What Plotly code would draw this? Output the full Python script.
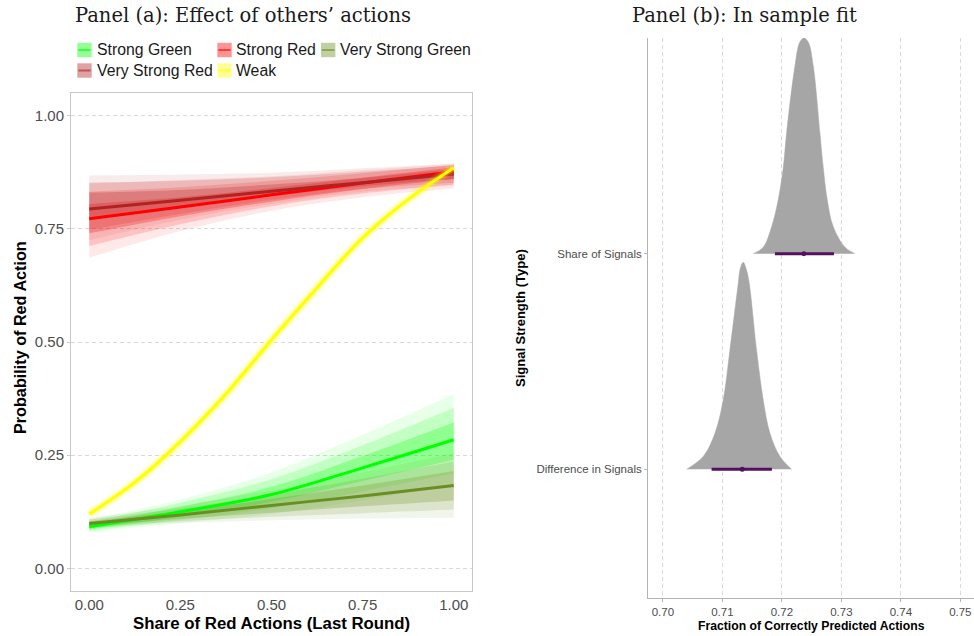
import plotly.graph_objects as go

W, H = 974, 636

# ---------------- Panel (a) data ----------------
share_x = [0.0, 0.25, 0.5, 0.75, 1.0]

strong_green_mean = [0.092, 0.125, 0.163, 0.222, 0.284]
strong_green_outer_lo = [0.080, 0.100, 0.120, 0.150, 0.185]
strong_green_outer_hi = [0.108, 0.152, 0.212, 0.295, 0.385]
strong_green_mid_lo = [0.083, 0.107, 0.133, 0.170, 0.210]
strong_green_mid_hi = [0.103, 0.145, 0.197, 0.272, 0.355]
strong_green_inner_lo = [0.086, 0.114, 0.147, 0.193, 0.240]
strong_green_inner_hi = [0.098, 0.136, 0.180, 0.248, 0.322]

strong_red_mean = [0.772, 0.798, 0.825, 0.851, 0.876]
strong_red_outer_lo = [0.686, 0.745, 0.790, 0.820, 0.839]
strong_red_outer_hi = [0.850, 0.858, 0.866, 0.880, 0.894]
strong_red_mid_lo = [0.712, 0.760, 0.800, 0.828, 0.848]
strong_red_mid_hi = [0.832, 0.842, 0.856, 0.873, 0.891]
strong_red_inner_lo = [0.740, 0.778, 0.810, 0.838, 0.860]
strong_red_inner_hi = [0.805, 0.820, 0.840, 0.863, 0.886]

vs_green_mean = [0.099, 0.118, 0.139, 0.160, 0.183]
vs_green_outer_lo = [0.088, 0.100, 0.106, 0.110, 0.112]
vs_green_outer_hi = [0.112, 0.138, 0.172, 0.212, 0.255]
vs_green_mid_lo = [0.091, 0.104, 0.114, 0.122, 0.130]
vs_green_mid_hi = [0.108, 0.132, 0.163, 0.198, 0.236]
vs_green_inner_lo = [0.094, 0.109, 0.123, 0.137, 0.150]
vs_green_inner_hi = [0.104, 0.126, 0.153, 0.183, 0.215]

vs_red_mean = [0.794, 0.813, 0.833, 0.852, 0.871]
vs_red_outer_lo = [0.725, 0.770, 0.805, 0.832, 0.845]
vs_red_outer_hi = [0.868, 0.870, 0.874, 0.884, 0.894]
vs_red_mid_lo = [0.748, 0.783, 0.814, 0.838, 0.852]
vs_red_mid_hi = [0.852, 0.856, 0.864, 0.876, 0.890]
vs_red_inner_lo = [0.770, 0.796, 0.822, 0.844, 0.860]
vs_red_inner_hi = [0.830, 0.836, 0.848, 0.862, 0.882]

weak_x = [0.0, 0.125, 0.25, 0.375, 0.5, 0.625, 0.75, 0.875, 1.0]
weak_mean = [0.120, 0.190, 0.280, 0.385, 0.505, 0.620, 0.730, 0.815, 0.885]

x_ticks = [0.0, 0.25, 0.5, 0.75, 1.0]
x_ticklabels = ["0.00", "0.25", "0.50", "0.75", "1.00"]
y_ticks = [0.0, 0.25, 0.5, 0.75, 1.0]
y_ticklabels = ["0.00", "0.25", "0.50", "0.75", "1.00"]

# ---------------- Panel (b) data ----------------
categories = ["Difference in Signals", "Share of Signals"]
share_dens_x = [0.71519, 0.71687, 0.71828, 0.71939, 0.72024, 0.72080, 0.72220, 0.72300,
                0.72371, 0.72445, 0.72528, 0.72640, 0.72696, 0.72763, 0.72864, 0.73061, 0.73229]
share_dens_h = [0.0, 0.03, 0.125, 0.25, 0.40, 0.56, 0.87, 0.98, 1.0, 0.98, 0.87, 0.56,
                0.40, 0.25, 0.125, 0.03, 0.0]
diff_dens_x = [0.70399, 0.70678, 0.70875, 0.71015, 0.71127, 0.71267, 0.71300, 0.71351,
               0.71400, 0.71452, 0.71575, 0.71687, 0.71800, 0.71968, 0.72164]
diff_dens_h = [0.0, 0.059, 0.167, 0.321, 0.553, 0.862, 0.93, 0.96, 0.93, 0.862, 0.553,
               0.321, 0.167, 0.059, 0.0]
share_interval = [0.71884, 0.72876]
share_point = 0.7237
diff_interval = [0.70819, 0.71833]
diff_point = 0.71334
b_ticks = [0.70, 0.71, 0.72, 0.73, 0.74, 0.75]
b_ticklabels = ["0.70", "0.71", "0.72", "0.73", "0.74", "0.75"]

# ---------------- styling ----------------
SANS = "Liberation Sans, Arial, sans-serif"
SERIF = "DejaVu Serif, Liberation Serif, serif"
series = [
    ("Strong Green", (0, 255, 0), strong_green_mean,
     [(strong_green_outer_lo, strong_green_outer_hi), (strong_green_mid_lo, strong_green_mid_hi),
      (strong_green_inner_lo, strong_green_inner_hi)]),
    ("Strong Red", (255, 0, 0), strong_red_mean,
     [(strong_red_outer_lo, strong_red_outer_hi), (strong_red_mid_lo, strong_red_mid_hi),
      (strong_red_inner_lo, strong_red_inner_hi)]),
    ("Very Strong Green", (107, 142, 35), vs_green_mean,
     [(vs_green_outer_lo, vs_green_outer_hi), (vs_green_mid_lo, vs_green_mid_hi),
      (vs_green_inner_lo, vs_green_inner_hi)]),
    ("Very Strong Red", (178, 34, 34), vs_red_mean,
     [(vs_red_outer_lo, vs_red_outer_hi), (vs_red_mid_lo, vs_red_mid_hi),
      (vs_red_inner_lo, vs_red_inner_hi)]),
]
band_alphas = [0.09, 0.16, 0.26]
colors = {"Strong Green": (0, 255, 0), "Strong Red": (255, 0, 0),
          "Very Strong Green": (107, 142, 35), "Very Strong Red": (178, 34, 34),
          "Weak": (255, 255, 0)}


def rgba(c, a):
    return f"rgba({c[0]},{c[1]},{c[2]},{a})"


fig = go.Figure()

# uncertainty bands
for name, col, mean, bands in series:
    for (lo, hi), a in zip(bands, band_alphas):
        fig.add_trace(go.Scatter(x=share_x, y=lo, mode="lines", line=dict(width=0, shape="spline"),
                                 showlegend=False, hoverinfo="skip", legendgroup=name,
                                 xaxis="x", yaxis="y"))
        fig.add_trace(go.Scatter(x=share_x, y=hi, mode="lines", line=dict(width=0, shape="spline"),
                                 fill="tonexty", fillcolor=rgba(col, a), showlegend=False,
                                 hoverinfo="skip", legendgroup=name, xaxis="x", yaxis="y"))

# mean lines
for name, col, mean, _ in series:
    fig.add_trace(go.Scatter(x=share_x, y=mean, mode="lines", name=name, legendgroup=name,
                             line=dict(color=rgba(col, 1), width=3, shape="spline"),
                             showlegend=False, xaxis="x", yaxis="y"))

# weak (yellow) with narrow glow
for w, a in [(10, 0.13), (6, 0.3)]:
    fig.add_trace(go.Scatter(x=weak_x, y=weak_mean, mode="lines", legendgroup="Weak",
                             line=dict(color=rgba((255, 255, 0), a), width=w, shape="spline"),
                             showlegend=False, hoverinfo="skip", xaxis="x", yaxis="y"))
fig.add_trace(go.Scatter(x=weak_x, y=weak_mean, mode="lines", name="Weak", legendgroup="Weak",
                         line=dict(color="#FFFF00", width=3, shape="spline"),
                         showlegend=False, xaxis="x", yaxis="y"))

# ---------------- legend (drawn like ggplot's keys: translucent square + line) ----------------
legend_items = [
    ("Strong Green", 77.3, 50.0, 95.0),
    ("Strong Red", 217.3, 50.0, 234.3),
    ("Very Strong Green", 321.0, 50.0, 338.3),
    ("Very Strong Red", 77.3, 70.5, 95.0),
    ("Weak", 217.3, 70.5, 234.3),
]
KEY = 14.4
shapes = []
annotations = []
for name, kx, ky, tx in legend_items:
    col = colors[name]
    shapes.append(dict(type="rect", xref="paper", yref="paper",
                       x0=kx / W, x1=(kx + KEY) / W, y0=1 - (ky - KEY / 2) / H, y1=1 - (ky + KEY / 2) / H,
                       fillcolor=rgba(col, 0.42), line=dict(width=0), layer="above"))
    shapes.append(dict(type="line", xref="paper", yref="paper",
                       x0=(kx + 1) / W, x1=(kx + KEY - 1) / W, y0=1 - ky / H, y1=1 - ky / H,
                       line=dict(color=rgba(col, 0.6), width=2), layer="above"))
    annotations.append(dict(text=name, x=tx / W, y=1 - ky / H, xref="paper", yref="paper",
                            showarrow=False, xanchor="left", yanchor="middle",
                            font=dict(family=SANS, size=15.8, color="#1a1a1a")))

# ---------------- Panel (b) traces ----------------
for cat_idx, dx, dh, iv, pt in [(2, share_dens_x, share_dens_h, share_interval, share_point),
                                (1, diff_dens_x, diff_dens_h, diff_interval, diff_point)]:
    fig.add_trace(go.Scatter(x=dx, y=[cat_idx] * len(dx), mode="lines", line=dict(width=0),
                             showlegend=False, hoverinfo="skip", xaxis="x2", yaxis="y2"))
    fig.add_trace(go.Scatter(x=dx, y=[cat_idx + h for h in dh], mode="lines",
                             line=dict(width=0.5, color="#A6A6A6", shape="spline"),
                             fill="tonexty", fillcolor="#A6A6A6", showlegend=False,
                             xaxis="x2", yaxis="y2"))
    fig.add_trace(go.Scatter(x=iv, y=[cat_idx, cat_idx], mode="lines",
                             line=dict(color="#54105E", width=3),
                             showlegend=False, xaxis="x2", yaxis="y2"))
    fig.add_trace(go.Scatter(x=[pt], y=[cat_idx], mode="markers",
                             marker=dict(color="#54105E", size=5),
                             showlegend=False, xaxis="x2", yaxis="y2"))

tickfont_a = dict(family=SANS, size=15, color="#4d4d4d")
tickfont_b = dict(family=SANS, size=11.5, color="#4d4d4d")
GRID_DASH = "4px,3px"

annotations += [
    dict(text="Panel (a): Effect of others’ actions", x=243 / W, y=1 - 15 / H, xref="paper",
         yref="paper", showarrow=False, font=dict(family=SERIF, size=19.5, color="#1a1a1a"),
         xanchor="center", yanchor="middle"),
    dict(text="Panel (b): In sample fit", x=744 / W, y=1 - 15 / H, xref="paper",
         yref="paper", showarrow=False, font=dict(family=SERIF, size=19.5, color="#1a1a1a"),
         xanchor="center", yanchor="middle"),
    dict(text="<b>Probability of Red Action</b>", x=20 / W, y=1 - 338 / H, xref="paper",
         yref="paper", showarrow=False, textangle=-90, font=dict(family=SANS, size=16.2, color="black"),
         xanchor="center", yanchor="middle"),
    dict(text="<b>Share of Red Actions (Last Round)</b>", x=271.5 / W, y=1 - 623 / H, xref="paper",
         yref="paper", showarrow=False, font=dict(family=SANS, size=16.8, color="black"),
         xanchor="center", yanchor="middle"),
    dict(text="<b>Signal Strength (Type)</b>", x=520 / W, y=1 - 318 / H, xref="paper",
         yref="paper", showarrow=False, textangle=-90, font=dict(family=SANS, size=13, color="black"),
         xanchor="center", yanchor="middle"),
    dict(text="<b>Fraction of Correctly Predicted Actions</b>", x=811 / W, y=1 - 626 / H,
         xref="paper", yref="paper", showarrow=False,
         font=dict(family=SANS, size=12.2, color="black"), xanchor="center", yanchor="middle"),
]

fig.update_layout(
    width=W, height=H,
    margin=dict(l=0, r=0, t=0, b=0),
    paper_bgcolor="white", plot_bgcolor="white",
    showlegend=False,
    xaxis=dict(domain=[71 / W, 472 / W], range=[-0.05, 1.05], tickvals=x_ticks, ticktext=x_ticklabels,
               showgrid=False, zeroline=False, showline=True, mirror=True, linecolor="#c8c8c8",
               linewidth=1, ticks="", tickfont=tickfont_a, anchor="y"),
    yaxis=dict(domain=[1 - 591 / H, 1 - 93 / H], range=[-0.05, 1.05], tickvals=y_ticks,
               ticktext=y_ticklabels, showgrid=True, gridcolor="#d9d9d9", griddash=GRID_DASH, gridwidth=1,
               zeroline=False, showline=True, mirror=True, linecolor="#c8c8c8", linewidth=1,
               ticks="outside", ticklen=3, tickcolor="#c8c8c8", tickfont=tickfont_a, anchor="x"),
    xaxis2=dict(domain=[648 / W, 1.0], range=[0.6975, 0.7523], tickvals=b_ticks, ticktext=b_ticklabels,
                showgrid=True, gridcolor="#d9d9d9", griddash=GRID_DASH, gridwidth=1, zeroline=False,
                showline=True, linecolor="#b3b3b3", linewidth=1, ticks="outside", ticklen=3,
                tickcolor="#b3b3b3", tickfont=tickfont_b, anchor="y2"),
    yaxis2=dict(domain=[1 - 598 / H, 1 - 38 / H], range=[0.403, 3.0], tickvals=[1, 2],
                ticktext=categories, showgrid=False, zeroline=False, showline=True,
                linecolor="#b3b3b3", linewidth=1, ticks="outside", ticklen=3, tickcolor="#b3b3b3",
                tickfont=tickfont_b, anchor="x2"),
    annotations=annotations,
    shapes=shapes,
)

fig.write_html("out.html")
